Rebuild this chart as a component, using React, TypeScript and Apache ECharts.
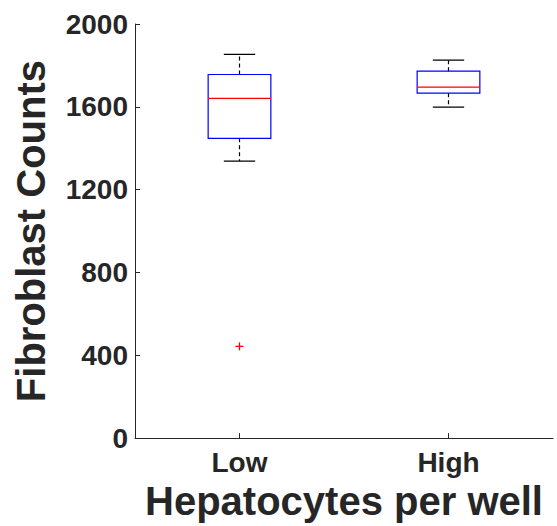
import React, { useEffect, useRef } from "react";
import * as echarts from "echarts";

const categories = ["Low", "High"];
const whiskerLow = [1338, 1599];
const q1 = [1448, 1666];
const median = [1641, 1695];
const q3 = [1756, 1772];
const whiskerHigh = [1853, 1826];
const outliers: [number, number][] = [[0, 443]];
const yTicks = { min: 0, max: 2000, interval: 400 };

const TEXT = "#262626";
const FONT = "'Liberation Sans', Arial, Helvetica, sans-serif";

export default function App() {
  const ref = useRef<HTMLDivElement>(null);
  useEffect(() => {
    if (!ref.current) return;
    const chart = echarts.init(ref.current, null, { renderer: "svg" });
    const boxData = categories.map((_, i) => [i, whiskerLow[i], q1[i], median[i], q3[i], whiskerHigh[i]]);
    chart.setOption({
      animation: false,
      backgroundColor: "#ffffff",
      grid: { left: 135, right: 4, top: 24, bottom: 84, containLabel: false },
      xAxis: {
        type: "category",
        data: categories,
        boundaryGap: true,
        name: "Hepatocytes per well",
        nameLocation: "middle",
        nameGap: 33,
        nameTextStyle: { fontFamily: FONT, fontWeight: "bold", fontSize: 40, color: TEXT },
        axisLine: { show: true, lineStyle: { color: TEXT, width: 1 } },
        axisTick: { show: true, inside: true, alignWithLabel: true, length: 5, lineStyle: { color: TEXT } },
        axisLabel: { fontFamily: FONT, fontWeight: "bold", fontSize: 28, color: TEXT, margin: 10 },
        splitLine: { show: false },
      },
      yAxis: {
        type: "value",
        min: yTicks.min,
        max: yTicks.max,
        interval: yTicks.interval,
        name: "Fibroblast Counts",
        nameLocation: "middle",
        nameGap: 84,
        nameRotate: 90,
        nameTextStyle: { fontFamily: FONT, fontWeight: "bold", fontSize: 40, color: TEXT },
        axisLine: { show: true, lineStyle: { color: TEXT, width: 1 } },
        axisTick: { show: true, inside: true, length: 5, lineStyle: { color: TEXT } },
        axisLabel: {
          fontFamily: FONT,
          fontWeight: "bold",
          fontSize: 28,
          color: TEXT,
          margin: 7,
          formatter: (v: number) => String(v),
        },
        splitLine: { show: false },
      },
      series: [
        {
          type: "custom",
          data: boxData,
          encode: { x: 0, y: [1, 2, 3, 4, 5] },
          renderItem: (params: any, api: any) => {
            const idx = api.value(0);
            const band = api.size([1, 0])[0];
            const bw = band * 0.3;
            const cw = band * 0.15;
            const pMin = api.coord([idx, api.value(1)]);
            const pQ1 = api.coord([idx, api.value(2)]);
            const pMed = api.coord([idx, api.value(3)]);
            const pQ3 = api.coord([idx, api.value(4)]);
            const pMax = api.coord([idx, api.value(5)]);
            const cx = pMed[0];
            const dashed = { stroke: "#000000", lineWidth: 1.2, lineDash: [4, 3] };
            const solid = { stroke: "#000000", lineWidth: 1.2 };
            return {
              type: "group",
              children: [
                { type: "line", shape: { x1: cx, y1: pQ3[1], x2: cx, y2: pMax[1] }, style: dashed },
                { type: "line", shape: { x1: cx, y1: pQ1[1], x2: cx, y2: pMin[1] }, style: dashed },
                { type: "line", shape: { x1: cx - cw / 2, y1: pMax[1], x2: cx + cw / 2, y2: pMax[1] }, style: solid },
                { type: "line", shape: { x1: cx - cw / 2, y1: pMin[1], x2: cx + cw / 2, y2: pMin[1] }, style: solid },
                {
                  type: "rect",
                  shape: { x: cx - bw / 2, y: pQ3[1], width: bw, height: pQ1[1] - pQ3[1] },
                  style: { fill: "none", stroke: "#0000ff", lineWidth: 1.2 },
                },
                { type: "line", shape: { x1: cx - bw / 2, y1: pMed[1], x2: cx + bw / 2, y2: pMed[1] }, style: { stroke: "#ff0000", lineWidth: 1.2 } },
              ],
            };
          },
        },
        {
          type: "custom",
          data: outliers,
          encode: { x: 0, y: 1 },
          renderItem: (params: any, api: any) => {
            const p = api.coord([api.value(0), api.value(1)]);
            const s = 4;
            const st = { stroke: "#ff0000", lineWidth: 1.3 };
            return {
              type: "group",
              children: [
                { type: "line", shape: { x1: p[0] - s, y1: p[1], x2: p[0] + s, y2: p[1] }, style: st },
                { type: "line", shape: { x1: p[0], y1: p[1] - s, x2: p[0], y2: p[1] + s }, style: st },
              ],
            };
          },
        },
      ],
    });
    return () => chart.dispose();
  }, []);
  return <div ref={ref} style={{ width: 557, height: 526, position: "absolute", left: 0, top: 0 }} />;
}
